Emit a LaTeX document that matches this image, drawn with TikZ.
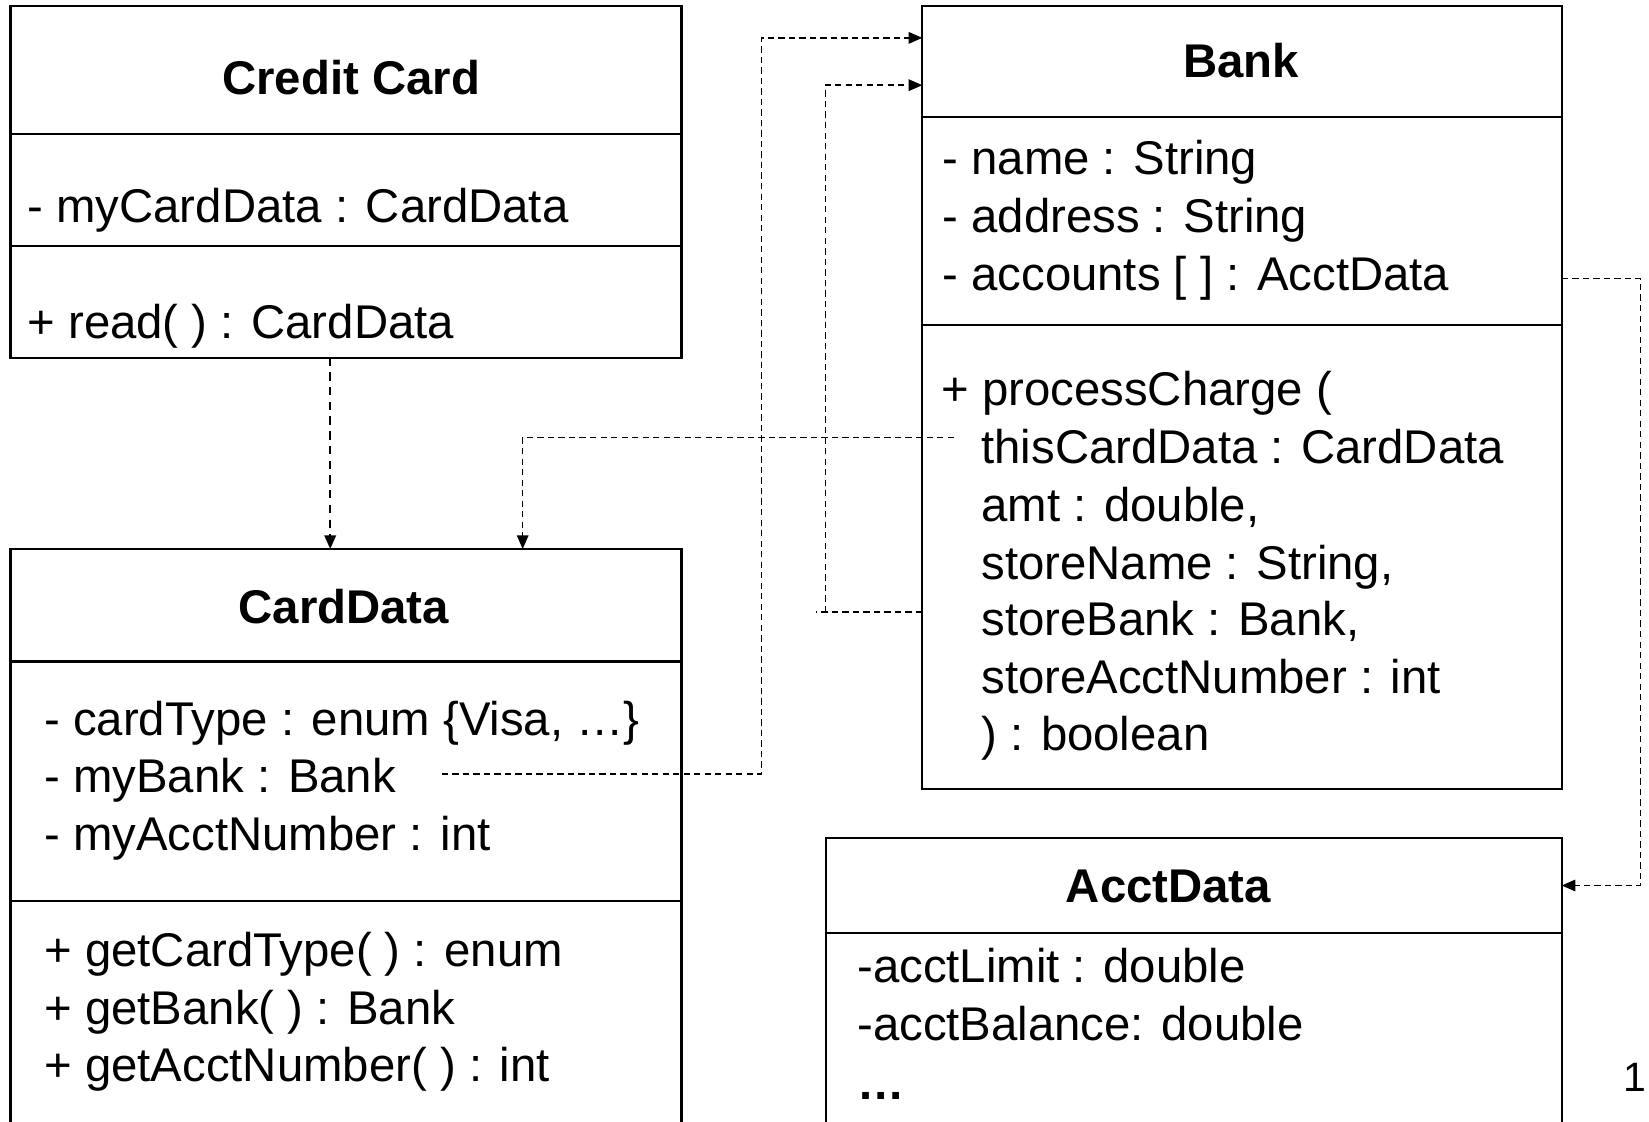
\documentclass[tikz,border=0pt]{standalone}
\usepackage{fontspec}
\setmainfont{Liberation Sans}
\usetikzlibrary{arrows.meta}
\tikzset{
  umlbox/.style={draw, line width=2pt, rectangle, anchor=north west, inner sep=0pt, outer sep=0pt},
  sep/.style={line width=2pt},
  txt/.style={anchor=base west, inner sep=0pt, font=\fontsize{45}{55}\selectfont},
  ttl/.style={anchor=base, inner sep=0pt, font=\fontsize{45}{55}\selectfont\bfseries},
  dep/.style={line width=1.4pt, dash pattern=on 6pt off 4pt},
  deparrow/.style={dep, -{Triangle[length=13pt,width=11pt]}},
}
\begin{document}
\begin{tikzpicture}[x=1pt,y=-1pt]
\useasboundingbox (0,0) rectangle (1568,1066);
\fill[white] (0,0) rectangle (1568,1066);

% Credit Card
\node[umlbox, minimum width=638pt, minimum height=334pt] (cc) at (10,6) {};
\draw[sep] (cc.west |- 0,127) -- (cc.east |- 0,127);
\draw[sep] (cc.west |- 0,234) -- (cc.east |- 0,234);
\node[ttl] (cct) at (334,90) {Credit Card};
\node[txt] (cc1) at (26,212) {- myCardData : CardData};
\node[txt] (cc2) at (26,322) {+ read( ) : CardData};

% CardData
\node[umlbox, minimum width=638pt, minimum height=600pt] (cd) at (10,522) {};
\draw[sep] (cd.west |- 0,629) -- (cd.east |- 0,629);
\draw[sep] (cd.west |- 0,857) -- (cd.east |- 0,857);
\node[ttl] (cdt) at (327,593) {CardData};
\node[txt] (cd1) at (42,699) {- cardType : enum \{Visa, …\}};
\node[txt] (cd2) at (42,754) {- myBank : Bank};
\node[txt] (cd3) at (42,809) {- myAcctNumber : int};
\node[txt] (cd4) at (42,919) {+ getCardType( ) : enum};
\node[txt] (cd5) at (42,974) {+ getBank( ) : Bank};
\node[txt] (cd6) at (42,1028) {+ getAcctNumber( ) : int};

% Bank
\node[umlbox, minimum width=608pt, minimum height=744pt] (bank) at (877,6) {};
\draw[sep] (bank.west |- 0,111) -- (bank.east |- 0,111);
\draw[sep] (bank.west |- 0,309) -- (bank.east |- 0,309);
\node[ttl] (bkt) at (1180,74) {Bank};
\node[txt] (bk1) at (896,166) {- name : String};
\node[txt] (bk2) at (896,221) {- address : String};
\node[txt] (bk3) at (896,276) {- accounts [ ] : AcctData};
\node[txt] (bk4) at (895,386) {+ processCharge (};
\node[txt] (bk5) at (933,441) {thisCardData : CardData};
\node[txt] (bk6) at (933,496) {amt : double,};
\node[txt] (bk7) at (933,551) {storeName : String,};
\node[txt] (bk8) at (933,604) {storeBank : Bank,};
\node[txt] (bk9) at (933,659) {storeAcctNumber : int};
\node[txt] (bk10) at (933,714) {) : boolean};

% AcctData
\node[umlbox, minimum width=700pt, minimum height=320pt] (ad) at (785,797) {};
\draw[sep] (ad.west |- 0,887) -- (ad.east |- 0,887);
\node[ttl] (adt) at (1111,858) {AcctData};
\node[txt] (ad1) at (815,934) {-acctLimit : double};
\node[txt] (ad2) at (815,989) {-acctBalance: double};
\node[txt, font=\fontsize{45}{55}\selectfont\bfseries] (ad3) at (815,1045) {…};

% page number
\node[txt, font=\fontsize{39}{47}\selectfont] (pg) at (1544,1038) {1};

% connectors
\draw[deparrow, line width=1.8pt, dash pattern=on 8pt off 6pt] (cc.south -| 314,0) -- (cd.north -| 314,0);
\coordinate (tc) at (907,416);
\draw[deparrow] (tc) -| (cd.north -| 497,0);
\coordinate (mb) at (420,736);
\draw[deparrow] (mb) -- (724,736) |- (bank.west |- 0,36);
\draw[dep] (bank.west |- 0,582) -- (776,582);
\draw[deparrow] (785,582) |- (bank.west |- 0,81);
\draw[deparrow] (bank.east |- 0,265) -| (1560,842) -- (ad.east |- 0,842);
\end{tikzpicture}
\end{document}
